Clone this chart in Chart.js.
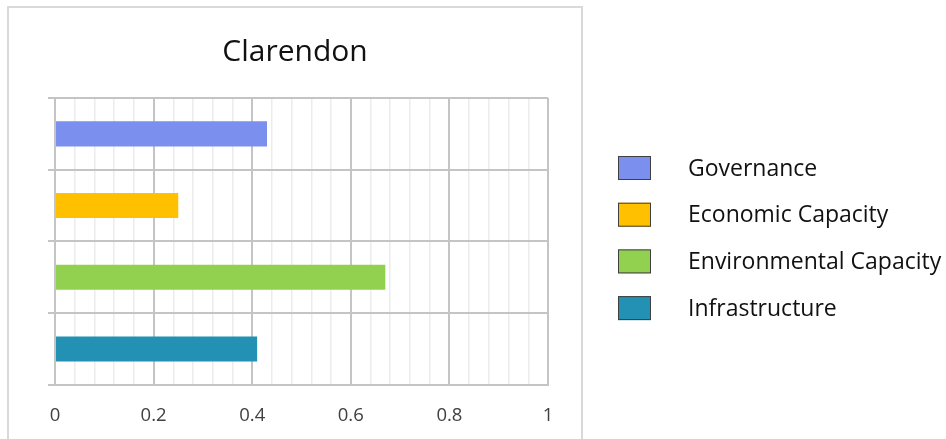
<!DOCTYPE html>
<html>
<head>
<meta charset="utf-8">
<script src="https://cdn.jsdelivr.net/npm/chart.js@4.4.0/dist/chart.umd.min.js"></script>
<style>
  html, body { margin: 0; padding: 0; background: #ffffff; }
  #wrap { position: relative; width: 946px; height: 439px; }
  canvas { display: block; }
</style>
</head>
<body>
<div id="wrap"><canvas id="c" width="946" height="439"></canvas></div>
<script>
const titleText = 'Clarendon';
const categories = ['Governance', 'Economic Capacity', 'Environmental Capacity', 'Infrastructure'];
const values = [0.43, 0.25, 0.67, 0.41];
const barColors = ['#7a8fee', '#ffc000', '#92d050', '#2391b4'];
const xMin = 0, xMax = 1, xMinorStep = 0.04, xMajorStep = 0.2;

const FONT = "'Open Sans', 'Noto Sans', sans-serif";

function isMajor(v) {
  const r = v / xMajorStep;
  return Math.abs(r - Math.round(r)) < 1e-6;
}

const framePlugin = {
  id: 'frame',
  beforeDraw(chart) {
    const ctx = chart.ctx;
    ctx.save();
    ctx.strokeStyle = '#d9d9d9';
    ctx.lineWidth = 2;
    ctx.strokeRect(8, 7, 574, 480);
    ctx.restore();
  }
};

const legendPlugin = {
  id: 'sideLegend',
  afterDraw(chart) {
    const ctx = chart.ctx;
    const x0 = 618, rowTop = 168, rowGap = 46.7;
    ctx.save();
    ctx.font = "23px " + FONT;
    ctx.textBaseline = 'middle';
    ctx.textAlign = 'left';
    categories.forEach((name, i) => {
      const cy = rowTop + i * rowGap;
      ctx.fillStyle = barColors[i];
      ctx.fillRect(x0, cy - 12, 33, 24);
      ctx.strokeStyle = '#3f3f3f';
      ctx.lineWidth = 1;
      ctx.strokeRect(x0 + 0.5, cy - 11.5, 32, 23);
      ctx.fillStyle = '#111111';
      ctx.fillText(name, 688, cy + 1);
    });
    ctx.restore();
  }
};

new Chart(document.getElementById('c'), {
  type: 'bar',
  data: {
    labels: categories,
    datasets: [{
      label: titleText,
      data: values,
      backgroundColor: barColors,
      borderWidth: 0,
      categoryPercentage: 1,
      barPercentage: 0.35
    }]
  },
  options: {
    indexAxis: 'y',
    responsive: false,
    animation: false,
    layout: { padding: { left: 42, right: 398, top: 0, bottom: -8 } },
    plugins: {
      legend: { display: false },
      tooltip: { enabled: false },
      title: {
        display: true,
        text: titleText,
        color: '#111111',
        font: { family: FONT, size: 30, weight: 'normal', lineHeight: 1.2 },
        padding: { top: 34, bottom: 28 }
      }
    },
    scales: {
      x: {
        type: 'linear',
        min: xMin,
        max: xMax,
        ticks: {
          stepSize: xMinorStep,
          autoSkip: false,
          maxRotation: 0,
          padding: 20,
          color: '#404040',
          font: { family: FONT, size: 18.5, lineHeight: 1.2 },
          callback: (v) => isMajor(v) ? String(Math.round(v * 10) / 10) : ''
        },
        grid: {
          drawTicks: false,
          color: (c) => (c.tick && isMajor(c.tick.value)) ? '#c4c4c4' : '#ececec',
          lineWidth: (c) => (c.tick && isMajor(c.tick.value)) ? 2 : 1.5
        },
        border: { display: true, color: '#c4c4c4', width: 2 }
      },
      y: {
        ticks: { display: true, padding: 0, callback: () => '' },
        grid: { color: '#c4c4c4', lineWidth: 2, tickLength: 7, drawTicks: true },
        border: { display: true, color: '#c4c4c4', width: 2 },
        afterFit: (s) => { s.width = 13; }
      }
    }
  },
  plugins: [framePlugin, legendPlugin]
});
</script>
</body>
</html>
